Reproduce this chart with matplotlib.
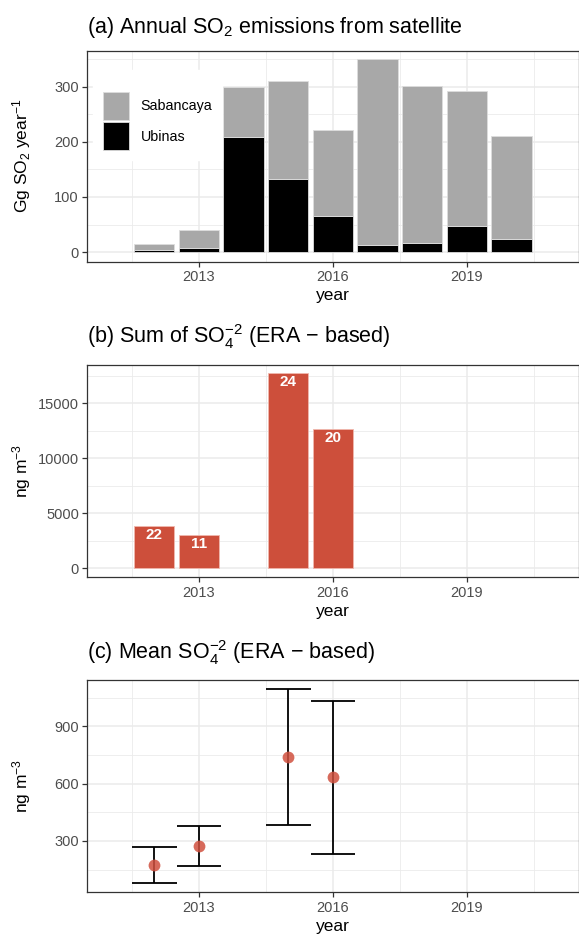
import numpy as np
import matplotlib.pyplot as plt
from matplotlib.ticker import FixedLocator

plt.rcParams['font.family'] = ['Liberation Sans', 'DejaVu Sans']
plt.rcParams['mathtext.default'] = 'regular'

# (a) annual SO2 emissions, Gg per year
years_a = [2012, 2013, 2014, 2015, 2016, 2017, 2018, 2019, 2020]
total_so2 = [14, 40, 300, 310, 221, 350, 301, 292, 211]
ubinas = [3, 8, 208, 133, 65, 13, 17, 47, 23]
sabancaya = [t - u for t, u in zip(total_so2, ubinas)]

# (b) sum of sulphate, with number of samples
years_b = [2012, 2013, 2015, 2016]
so4_sum = [3830, 3010, 17760, 12630]
n_samples = [22, 11, 24, 20]

# (c) mean sulphate with range
years_c = [2012, 2013, 2015, 2016]
so4_mean = [173, 273, 740, 632]
so4_low = [80, 168, 382, 231]
so4_high = [268, 377, 1095, 1034]

xticks = [2013, 2016, 2019]
xminor = [2011.5, 2014.5, 2017.5, 2020.5]

red = '#CD4F3B'
grid_col = '#EBEBEB'
tick_col = '#4D4D4D'

fig = plt.figure(figsize=(5.79, 9.35), dpi=100)
W, H = 579, 935


def add_panel(top, bottom):
    left, right = 87.3, 578.5
    return fig.add_axes([left / W, 1 - bottom / H, (right - left) / W, (bottom - top) / H])


def style(ax, ymajor, yminor):
    ax.set_xlim(2010.5, 2021.5)
    ax.xaxis.set_major_locator(FixedLocator(xticks))
    ax.xaxis.set_minor_locator(FixedLocator(xminor))
    ax.yaxis.set_major_locator(FixedLocator(ymajor))
    ax.yaxis.set_minor_locator(FixedLocator(yminor))
    ax.grid(True, which='major', color=grid_col, lw=1.1, zorder=0)
    ax.grid(True, which='minor', color=grid_col, lw=0.6, zorder=0)
    ax.set_axisbelow(True)
    for s in ax.spines.values():
        s.set_color('#333333')
        s.set_linewidth(0.9)
    ax.tick_params(which='major', length=3.5, width=0.9, color='#333333',
                   labelcolor=tick_col, labelsize=10.5, pad=2.5)
    ax.tick_params(which='minor', length=0)
    ax.set_xlabel('year', fontsize=12.5, labelpad=3)
    ax.yaxis.set_label_coords(-0.11, 0.5)


# panel (a)
ax1 = add_panel(50.7, 261.7)
ax1.bar(years_a, ubinas, width=0.9, color='black', edgecolor='#DDDDDD', lw=0.6, label='Ubinas', zorder=2)
ax1.bar(years_a, sabancaya, bottom=ubinas, width=0.9, color='#A8A8A8', edgecolor='#DDDDDD', lw=0.6,
        label='Sabancaya', zorder=2)
ax1.set_ylim(-17.5, 365.5)
style(ax1, [0, 100, 200, 300], [50, 150, 250, 350])
ax1.set_ylabel('Gg SO$_2$ year$^{-1}$', fontsize=12.5)
ax1.set_title('(a) Annual SO$_2$ emissions from satellite', loc='left', fontsize=15.5, pad=13)
h, l = ax1.get_legend_handles_labels()
leg = ax1.legend(h[::-1], l[::-1], loc='upper left', bbox_to_anchor=(0.012, 0.91),
                 fontsize=10.3, handlelength=1.82, handleheight=2.63, labelspacing=0.16,
                 handletextpad=0.8, borderpad=0.7, borderaxespad=0, frameon=True,
                 fancybox=False, edgecolor='white', framealpha=1, title=' ', title_fontsize=8)
for p in leg.get_patches():
    p.set_edgecolor('#DDDDDD')

# panel (b)
ax2 = add_panel(365, 577.3)
ax2.bar(years_b, so4_sum, width=0.9, color=red, edgecolor='#F0B8AE', lw=0.6, zorder=2)
for x, v, n in zip(years_b, so4_sum, n_samples):
    ax2.annotate(str(n), (x, v), xytext=(0, -1), textcoords='offset points',
                 ha='center', va='top', color='white', fontsize=11, fontweight='bold', zorder=3)
ax2.set_ylim(-830, 18500)
style(ax2, [0, 5000, 10000, 15000], [2500, 7500, 12500, 17500])
ax2.set_ylabel('ng m$^{-3}$', fontsize=12.5)
ax2.set_title('(b) Sum of SO$_4^{-2}$ (ERA − based)', loc='left', fontsize=15.5, pad=16)

# panel (c)
ax3 = add_panel(680, 892.3)
ax3.vlines(years_c, so4_low, so4_high, color='black', lw=1.3, zorder=2)
ax3.hlines(so4_low, np.array(years_c) - 0.5, np.array(years_c) + 0.5, color='black', lw=1.3, zorder=2)
ax3.hlines(so4_high, np.array(years_c) - 0.5, np.array(years_c) + 0.5, color='black', lw=1.3, zorder=2)
ax3.plot(years_c, so4_mean, 'o', color='#D0503E', alpha=0.85, ms=8.5, mew=0, zorder=3)
ax3.set_ylim(31, 1142)
style(ax3, [300, 600, 900], [150, 450, 750, 1050])
ax3.set_ylabel('ng m$^{-3}$', fontsize=12.5)
ax3.set_title('(c) Mean SO$_4^{-2}$ (ERA − based)', loc='left', fontsize=15.5, pad=15)

fig.savefig('out.png', dpi=100)
